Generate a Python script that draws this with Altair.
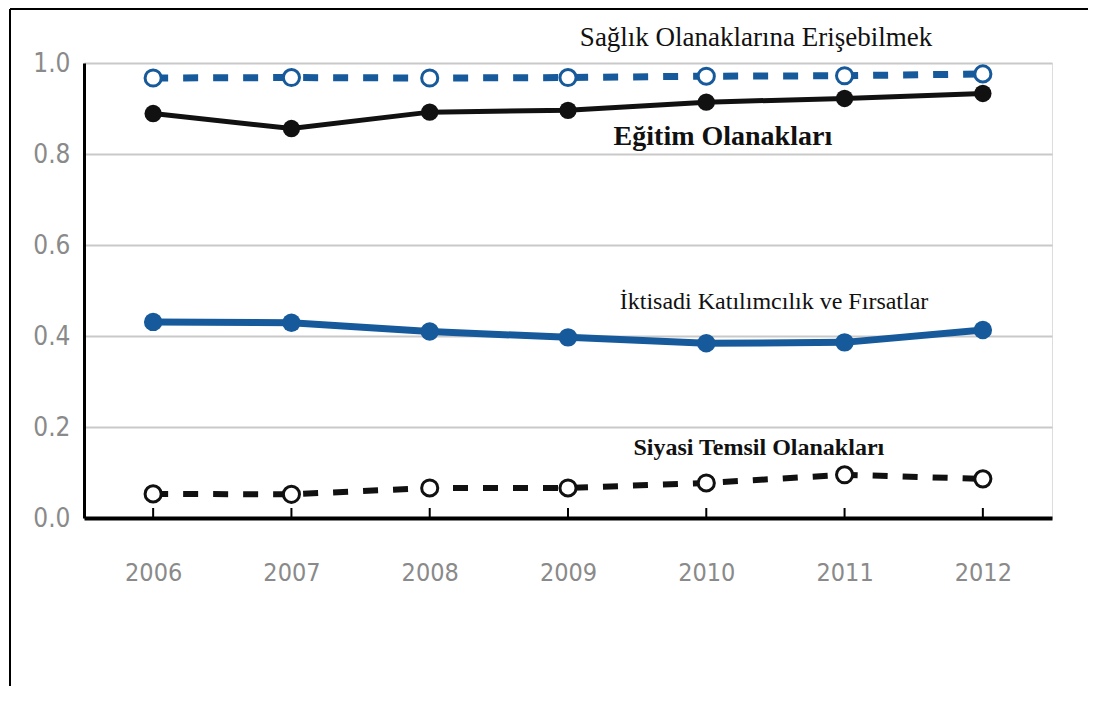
import altair as alt
import pandas as pd

# ---- data ----
years = [2006, 2007, 2008, 2009, 2010, 2011, 2012]
saglik = [0.967, 0.968, 0.967, 0.968, 0.971, 0.972, 0.976]
egitim = [0.889, 0.856, 0.892, 0.896, 0.914, 0.922, 0.933]
iktisadi = [0.431, 0.429, 0.410, 0.397, 0.384, 0.386, 0.413]
siyasi = [0.053, 0.052, 0.066, 0.066, 0.077, 0.095, 0.086]

y_ticks = [0.0, 0.2, 0.4, 0.6, 0.8, 1.0]

label_texts = ["Sağlık Olanaklarına Erişebilmek", "Eğitim Olanakları",
               "İktisadi Katılımcılık ve Fırsatlar", "Siyasi Temsil Olanakları"]
label_x = [2010.36, 2010.12, 2010.49, 2010.38]
label_y = [1.037, 0.819, 0.459, 0.138]
label_bold = [False, True, False, True]
label_size = [27, 28, 24, 24]

BLUE = "#175a9b"
BLACK = "#111111"
W, H = 968, 455
PAD_L, PAD_T, PAD_R, PAD_B = 76, 55, 36, 168
AXIS_FONT = "DejaVu Sans Condensed, Liberation Sans Narrow, sans-serif"

x_enc = alt.X("year:Q",
              scale=alt.Scale(domain=[2005.5, 2012.5], nice=False, zero=False),
              axis=alt.Axis(values=years, format="d", title=None, grid=False,
                            ticks=False, domainColor="black", domainWidth=4,
                            labelPadding=42, labelFontSize=25,
                            labelFont=AXIS_FONT, labelColor="#8a8a8a"))
y_enc = alt.Y("value:Q",
              scale=alt.Scale(domain=[0, 1], nice=False),
              axis=alt.Axis(values=y_ticks, format=".1f", title=None, grid=True,
                            gridColor="#c9c9c9", gridWidth=2, ticks=False,
                            domainColor="black", domainWidth=3,
                            labelPadding=14, labelFontSize=26,
                            labelFont=AXIS_FONT, labelColor="#8a8a8a"))


def series_df(vals):
    return pd.DataFrame({"year": years, "value": vals})


layers = []

# x-axis tick marks pointing into the plot
tick_df = pd.DataFrame({"year": years, "value": [0.0] * len(years), "top": [0.022] * len(years)})
layers.append(alt.Chart(tick_df).mark_rule(color="black", strokeWidth=2).encode(
    x=x_enc, y=y_enc, y2="top:Q"))


def line_layer(vals, color, width, dash=None):
    kw = dict(color=color, strokeWidth=width)
    if dash:
        kw["strokeDash"] = dash
    return alt.Chart(series_df(vals)).mark_line(**kw).encode(x=x_enc, y=y_enc)


def point_layer(vals, color, size, filled):
    if filled:
        m = alt.Chart(series_df(vals)).mark_circle(color=color, size=size, opacity=1)
    else:
        m = alt.Chart(series_df(vals)).mark_point(shape="circle", fill="white", filled=True,
                                                  stroke=color, strokeWidth=3, size=size,
                                                  opacity=1)
    return m.encode(x=x_enc, y=y_enc)


layers += [
    line_layer(iktisadi, BLUE, 7),
    point_layer(iktisadi, BLUE, 340, True),
    line_layer(siyasi, BLACK, 6, [15, 15]),
    point_layer(siyasi, BLACK, 260, False),
    line_layer(egitim, BLACK, 5),
    point_layer(egitim, BLACK, 300, True),
    line_layer(saglik, BLUE, 7, [15, 15]),
    point_layer(saglik, BLUE, 260, False),
]

# series labels
for t, lx, ly, b, s in zip(label_texts, label_x, label_y, label_bold, label_size):
    ldf = pd.DataFrame({"year": [lx], "value": [ly], "label": [t]})
    layers.append(alt.Chart(ldf).mark_text(
        font="Liberation Serif", fontSize=s, fontWeight="bold" if b else "normal",
        color="#111111", align="center", baseline="alphabetic").encode(
        x=x_enc, y=y_enc, text="label:N"))

# decorative frame (left and top edges of the figure)
frame_left = alt.Chart(tick_df).mark_rule(color="black", strokeWidth=2).encode(
    x=alt.value(-74), y=alt.value(-54), y2=alt.value(H + PAD_B))
frame_top = alt.Chart(tick_df).mark_rule(color="black", strokeWidth=2).encode(
    x=alt.value(-74), x2=alt.value(W + PAD_R), y=alt.value(-54))
layers += [frame_left, frame_top]

chart = alt.layer(*layers).properties(
    width=W, height=H,
    autosize=alt.AutoSizeParams(type="none"),
    padding={"left": PAD_L, "top": PAD_T, "right": PAD_R, "bottom": PAD_B},
).configure_view(stroke=None).configure(background="white")

chart.save("out.html", embed_options={"renderer": "svg", "actions": False})
